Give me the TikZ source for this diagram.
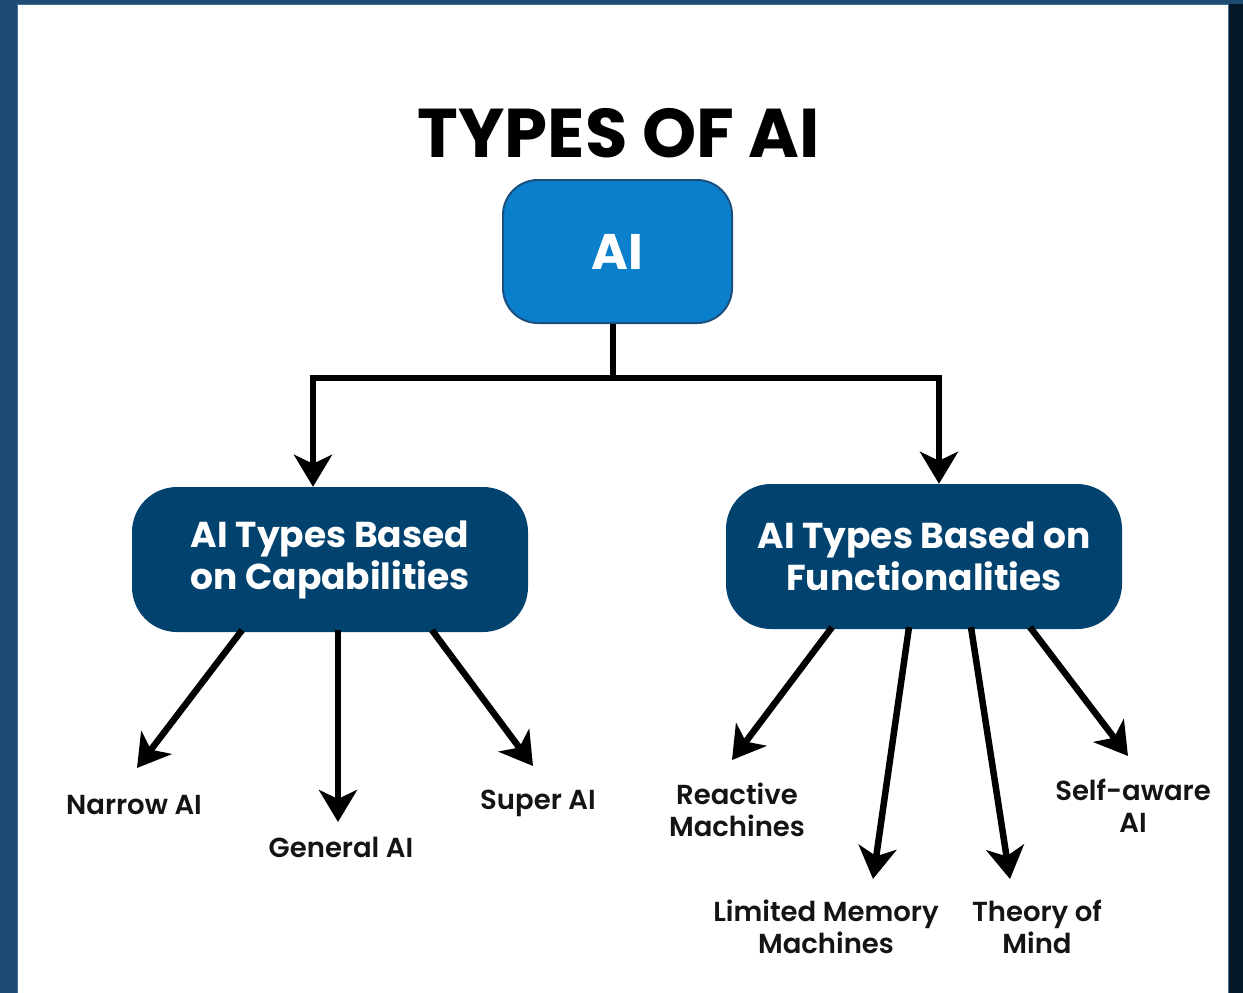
\documentclass[tikz,border=0pt]{standalone}
\usepackage{fontspec}
\setmainfont{Poppins}[UprightFont=* Medium, BoldFont=* Bold]
\newfontfamily\leaffont{Poppins SemiBold}
\usetikzlibrary{arrows.meta,calc}
\definecolor{bgl}{HTML}{1E4B73}
\definecolor{bgr}{HTML}{06192A}
\definecolor{edge}{HTML}{3F6F9A}
\definecolor{aiblue}{HTML}{0A80CC}
\definecolor{aiedge}{HTML}{1B4F7E}
\definecolor{dkblue}{HTML}{02426E}
\begin{document}
\begin{tikzpicture}[x=1pt,y=-1pt,
  arr/.style={line width=6.5pt, -{Stealth[length=32pt,width=38pt,inset=9pt]}},
  link/.style={line width=6.5pt},
  lvl/.style={rounded corners=45pt, fill=dkblue, text=white, font=\bfseries\fontsize{36}{42}\selectfont, align=center, minimum width=396pt, minimum height=145pt, inner sep=0pt},
  leaf/.style={font=\leaffont\fontsize{27.5}{32}\selectfont, align=center, text=black!92, inner sep=0pt}]
\useasboundingbox (0,0) rectangle (1243,993);
\fill[bgl] (0,0) rectangle (1243,993);
\fill[bgr] (1228,4) rectangle (1243,993);
\fill[white, draw=edge, line width=1pt] (17.5,4) rectangle (1228,1000);

\node[font=\bfseries\fontsize{69}{74}\selectfont, inner sep=0pt] (title) at (619,133) {TYPES OF AI};
\node[rounded corners=35pt, fill=aiblue, draw=aiedge, line width=2pt, text=white, font=\bfseries\fontsize{50}{54}\selectfont, minimum width=229pt, minimum height=143pt, inner sep=0pt] (ai) at (617.5,251.5) {AI};
\node[lvl] (cap) at (330,559.5) {AI Types Based\\on Capabilities};
\node[lvl] (fun) at (924,556.5) {AI Types Based on\\Functionalities};

\coordinate (jn) at (613,378);
\draw[link] ([xshift=-4.5pt]ai.south) -- (jn);
\draw[arr] (jn) -| ([xshift=-17pt]cap.north);
\draw[arr] (jn) -| ([xshift=15pt]fun.north);

\node[leaf] (narrow) at (134,805) {Narrow AI};
\node[leaf] (general) at (341,847) {General AI};
\node[leaf] (super) at (538,803) {Super AI};
\node[leaf] (reactive) at (737,810) {Reactive\\Machines};
\node[leaf] (limited) at (826,927) {Limited Memory\\Machines};
\node[leaf] (theory) at (1037,927) {Theory of\\Mind};
\node[leaf] (selfaware) at (1133,806) {Self-aware\\AI};

\coordinate (tN) at (137,768);
\coordinate (tG) at (338,822);
\coordinate (tS) at (533,766);
\coordinate (tR) at (732,760);
\coordinate (tL) at (873,879);
\coordinate (tT) at (1010,879);
\coordinate (tA) at (1128,756);

\draw[arr] ([xshift=-88pt,yshift=2pt]cap.south) -- (tN);
\draw[arr] ([xshift=8pt,yshift=2pt]cap.south) -- (tG);
\draw[arr] ([xshift=102pt,yshift=2pt]cap.south) -- (tS);
\draw[arr] ([xshift=-92pt,yshift=2pt]fun.south) -- (tR);
\draw[arr] ([xshift=-15pt,yshift=2pt]fun.south) -- (tL);
\draw[arr] ([xshift=47pt,yshift=2pt]fun.south) -- (tT);
\draw[arr] ([xshift=106pt,yshift=2pt]fun.south) -- (tA);
\end{tikzpicture}
\end{document}
